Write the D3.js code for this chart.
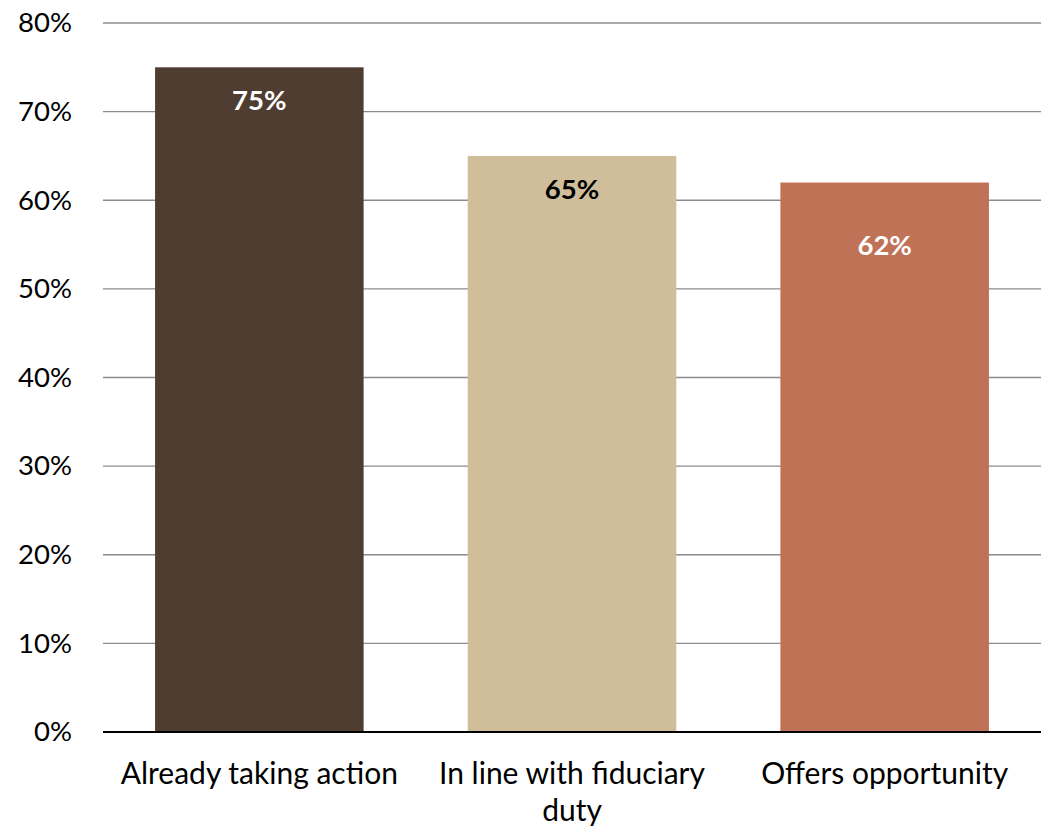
<!DOCTYPE html>
<html>
<head>
<meta charset="utf-8">
<script src="https://cdn.jsdelivr.net/npm/d3@7"></script>
<style>
  html, body { margin: 0; padding: 0; background: #fff; }
  text { font-family: Lato, "Open Sans", sans-serif; }
</style>
</head>
<body>
<svg id="chart" width="1044" height="827"></svg>
<script>
// Chart data
const categories = ["Already taking action", "In line with fiduciary duty", "Offers opportunity"];
const values = [75, 65, 62];
const barColors = ["#4F3D32", "#D0BE9B", "#C07257"];
const labelColors = ["#ffffff", "#000000", "#ffffff"];
const yTicks = [0, 10, 20, 30, 40, 50, 60, 70, 80];

// Layout
const W = 1044, H = 827;
const margin = { top: 23, right: 3, bottom: 95, left: 103 };
const labelDy = [32, 33, 62];   // distance of value label centre below bar top

const svg = d3.select("#chart");
const plotW = W - margin.left - margin.right;
const plotH = H - margin.top - margin.bottom;
const g = svg.append("g").attr("transform", `translate(${margin.left},${margin.top})`);

const x = d3.scaleBand().domain(categories).range([0, plotW])
  .paddingInner(0.333).paddingOuter(0.1665);
const y = d3.scaleLinear().domain([0, 80]).range([plotH, 0]);

// Gridlines
g.append("g").selectAll("line").data(yTicks.filter(d => d > 0)).join("line")
  .attr("x1", 0).attr("x2", plotW)
  .attr("y1", d => y(d)).attr("y2", d => y(d))
  .attr("stroke", "#8c8c8c").attr("stroke-width", 1.3);

// Y axis labels
const yAxis = g.append("g").call(d3.axisLeft(y).tickValues(yTicks).tickFormat(d => d + "%").tickSize(0).tickPadding(31));
yAxis.select(".domain").remove();
yAxis.selectAll("text").attr("font-size", 27.5).attr("fill", "#000")
  .style("font-family", "Lato, 'Open Sans', sans-serif");

// Bars
g.append("g").selectAll("rect").data(values).join("rect")
  .attr("x", (d, i) => x(categories[i]))
  .attr("width", x.bandwidth())
  .attr("y", d => y(d))
  .attr("height", d => plotH - y(d))
  .attr("fill", (d, i) => barColors[i]);

// Baseline
g.append("line").attr("x1", 0).attr("x2", plotW).attr("y1", plotH).attr("y2", plotH)
  .attr("stroke", "#000").attr("stroke-width", 2.2);

// Value labels
g.append("g").selectAll("text").data(values).join("text")
  .attr("x", (d, i) => x(categories[i]) + x.bandwidth() / 2)
  .attr("y", (d, i) => y(d) + labelDy[i])
  .attr("text-anchor", "middle").attr("dominant-baseline", "central")
  .attr("font-size", 27.5).attr("font-weight", "bold")
  .attr("fill", (d, i) => labelColors[i])
  .text(d => d + "%");

// Category labels, wrapped to the band width
const catG = g.append("g");
const lineGap = 37;
categories.forEach((c, i) => {
  const cx = x(c) + x.bandwidth() / 2;
  const t = catG.append("text").attr("text-anchor", "middle")
    .attr("font-size", 30).attr("fill", "#000");
  const words = c.split(" ");
  let line = [], lineNo = 0;
  let tspan = t.append("tspan").attr("x", cx).attr("y", plotH + 52);
  words.forEach(w => {
    line.push(w);
    tspan.text(line.join(" "));
    if (tspan.node().getComputedTextLength() > 290 && line.length > 1) {
      line.pop();
      tspan.text(line.join(" "));
      line = [w];
      lineNo++;
      tspan = t.append("tspan").attr("x", cx).attr("y", plotH + 52 + lineNo * lineGap).text(w);
    }
  });
});
</script>
</body>
</html>
